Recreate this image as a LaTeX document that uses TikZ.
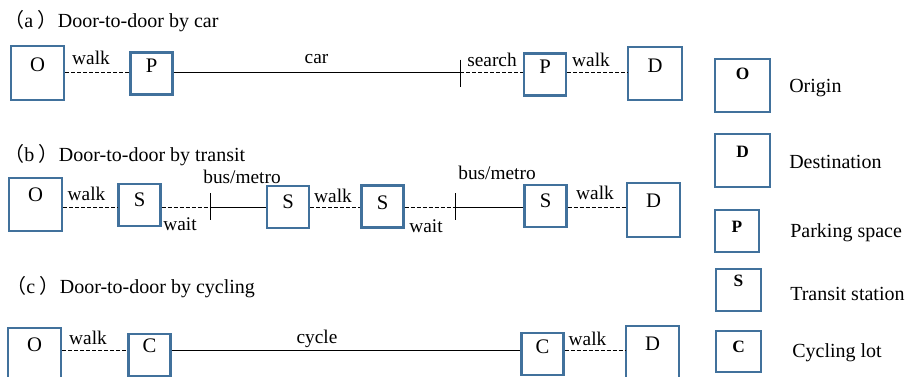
\documentclass[tikz,border=0pt]{standalone}
\usepackage{fontspec}
\setmainfont{Liberation Serif}
\newfontfamily\cjk{Noto Sans CJK SC}
\definecolor{boxblue}{RGB}{65,113,156}
\begin{document}
\begin{tikzpicture}[x=0.75pt,y=-0.75pt,
  box/.style={draw=boxblue,line width=1.6pt,inner sep=0pt,text height=0.68em,font=\fontsize{15.5pt}{18pt}\selectfont},
  big/.style={box,minimum width=40pt,minimum height=40pt},
  small/.style={box,minimum width=31.5pt,minimum height=31.5pt},
  lbox/.style={draw=boxblue,line width=1.6pt,inner sep=0pt,text height=0.68em,font=\fontsize{13pt}{15pt}\selectfont\bfseries},
  lbl/.style={anchor=base,inner sep=0pt,font=\fontsize{14.5pt}{17pt}\selectfont},
  ttl/.style={anchor=base west,inner sep=0pt,font=\fontsize{15pt}{18pt}\selectfont},
  leg/.style={anchor=base west,inner sep=0pt,font=\fontsize{15pt}{18pt}\selectfont},
  walkline/.style={dash pattern=on 3pt off 1.5pt,line width=0.75pt,draw=black},
  ride/.style={line width=0.7pt,draw=black},
]
\fill[white] (0,0) rectangle (912,376);
\useasboundingbox (0,0) rectangle (912,376);

% ---------- (a) car ----------
\node[ttl] (tta) at (4,27) {\cjk（\rmfamily a\hspace{3.5pt}\cjk）\rmfamily Door-to-door by car};
\node[big,text depth=9pt] (Oa) at (37.5,73) {O};
\node[small,text depth=9pt] (Pa) at (151.5,73.5) {P};
\node[small,text depth=8pt] (Pb) at (545,74.5) {P};
\node[big,text depth=8pt] (Da) at (655,73.5) {D};
\coordinate (la) at (0,72.5);
\coordinate (ta) at (460,72.5);
\draw[walkline] (Oa.east |- la) -- (Pa.west |- la);
\draw[ride] (Pa.east |- la) -- (ta);
\draw[ride] (ta) ++(0,-13) -- ++(0,27);
\draw[walkline] (ta) -- (Pb.west |- la);
\draw[walkline] (Pb.east |- la) -- (Da.west |- la);
\node[lbl] (wa1) at (91,64) {walk};
\node[lbl] (car) at (316.5,63) {car};
\node[lbl] (search) at (492,66) {search};
\node[lbl] (wa2) at (591,66) {walk};

% ---------- (b) transit ----------
\node[ttl] (ttb) at (4,161) {\cjk（\rmfamily b\hspace{3.5pt}\cjk）\rmfamily Door-to-door by transit};
\node[big,text depth=12pt] (Ob) at (35.5,204.5) {O};
\node[small,text depth=5pt] (Sb1) at (139.5,205) {S};
\node[small,text depth=4.5pt] (Sb2) at (288,207) {S};
\node[small,text depth=3pt] (Sb3) at (382.5,206.5) {S};
\node[small,text depth=4.5pt] (Sb4) at (545.5,206) {S};
\node[big,text depth=10pt] (Db) at (653.5,210) {D};
\coordinate (lb) at (0,207);
\coordinate (tb1) at (210,207);
\coordinate (tb2) at (455,207);
\draw[walkline] (Ob.east |- lb) -- (Sb1.west |- lb);
\draw[walkline] (Sb1.east |- lb) -- (tb1);
\draw[ride] (tb1) ++(0,-14) -- ++(0,27);
\draw[ride] (tb1) -- (Sb2.west |- lb);
\draw[walkline] (Sb2.east |- lb) -- (Sb3.west |- lb);
\draw[walkline] (Sb3.east |- lb) -- (tb2);
\draw[ride] (tb2) ++(0,-14) -- ++(0,27);
\draw[ride] (tb2) -- (Sb4.west |- lb);
\draw[walkline] (Sb4.east |- lb) -- (Db.west |- lb);
\node[lbl] (wb1) at (86.5,200) {walk};
\node[lbl] (bm1) at (242,183) {bus/metro};
\node[lbl] (wt1) at (180,230) {wait};
\node[lbl] (wb2) at (333,202) {walk};
\node[lbl] (wt2) at (426,232) {wait};
\node[lbl] (bm2) at (497,179) {bus/metro};
\node[lbl] (wb3) at (595,199) {walk};

% ---------- (c) cycling ----------
\node[ttl] (ttc) at (6,293) {\cjk（\rmfamily c\hspace{3.5pt}\cjk）\rmfamily Door-to-door by cycling};
\node[big,text depth=12pt] (Oc) at (34.5,354.5) {O};
\node[small,text depth=10pt] (Cc1) at (149.5,355) {C};
\node[small,text depth=8pt] (Cc2) at (542.5,354) {C};
\node[big,text depth=10pt] (Dc) at (652.5,352.5) {D};
\coordinate (lc) at (0,350);
\draw[walkline] (Oc.east |- lc) -- (Cc1.west |- lc);
\draw[ride] (Cc1.east |- lc) -- (Cc2.west |- lc);
\draw[walkline] (Cc2.east |- lc) -- (Dc.west |- lc);
\node[lbl] (wc1) at (88,344) {walk};
\node[lbl] (cyc) at (317,343) {cycle};
\node[lbl] (wc2) at (587.5,345) {walk};

% ---------- legend ----------
\node[lbox,minimum width=41pt,minimum height=40pt,text depth=16pt] (LO) at (742.5,85.5) {O};
\node[lbox,minimum width=41pt,minimum height=40pt,text depth=11pt] (LD) at (742.5,160.5) {D};
\node[lbox,minimum width=33pt,minimum height=31.5pt,text depth=4.5pt] (LP) at (737,231) {P};
\node[lbox,minimum width=33.5pt,minimum height=31.5pt,text depth=12pt] (LS) at (738.5,290) {S};
\node[lbox,minimum width=33.5pt,minimum height=31pt,text depth=6pt] (LC) at (738.5,351.5) {C};
\node[leg] (tO) at (789,92) {Origin};
\node[leg] (tD) at (789,168) {Destination};
\node[leg] (tP) at (790,237) {Parking space};
\node[leg] (tS) at (790,300) {Transit station};
\node[leg] (tC) at (792,357) {Cycling lot};
\end{tikzpicture}
\end{document}
